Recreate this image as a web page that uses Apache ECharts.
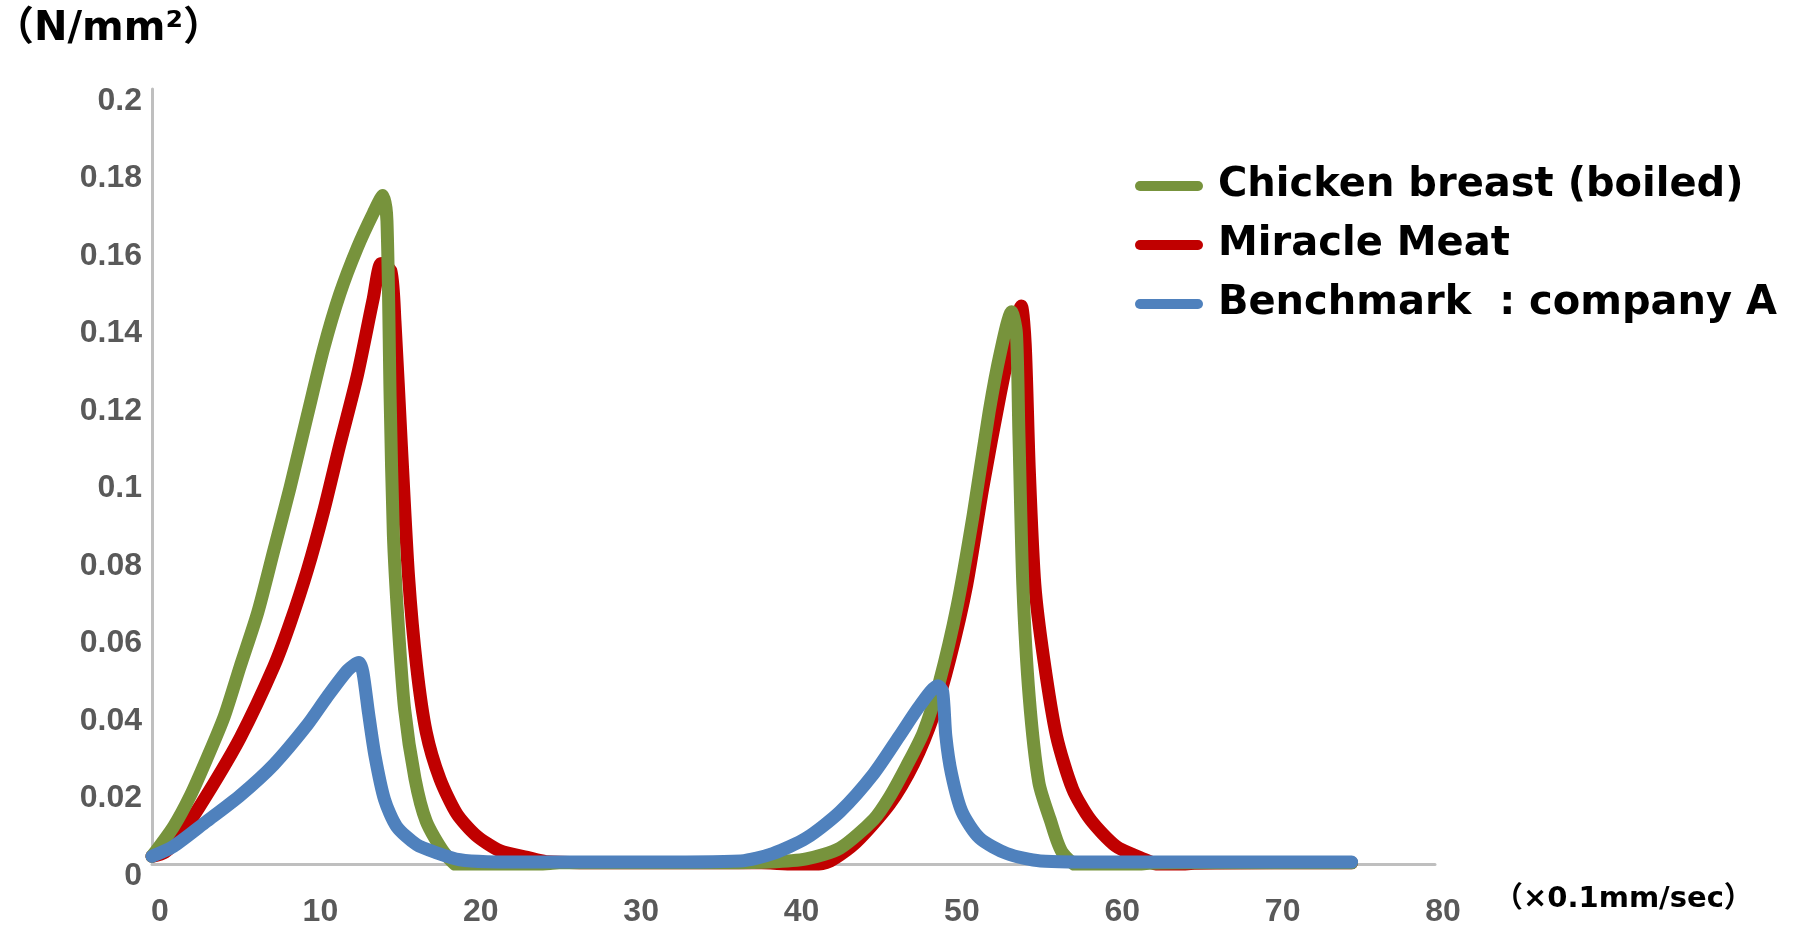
<!DOCTYPE html>
<html>
<head>
<meta charset="utf-8">
<title>chart</title>
<script src="https://cdn.jsdelivr.net/npm/echarts@6/dist/echarts.min.js"></script>
<style>
  html, body { margin: 0; padding: 0; background: #fff; }
  #chart { width: 1793px; height: 928px; }
</style>
</head>
<body>
<div id="chart"></div>
<script>
// series names (legend order)
const seriesNames = ["Chicken breast (boiled)", "Miracle Meat", "Benchmark  : company A"];

// axis ticks
const xTicks = [0, 10, 20, 30, 40, 50, 60, 70, 80];
const yTicks = ["0", "0.02", "0.04", "0.06", "0.08", "0.1", "0.12", "0.14", "0.16", "0.18", "0.2"];

// [x (×0.1mm/sec), stress (N/mm²)]
const chickenData = [
  [0, 0.002], [1.35, 0.0097], [2.4, 0.0177], [3.4, 0.027], [4.5, 0.038], [5.5, 0.051],
  [6.6, 0.065], [7.6, 0.081], [8.6, 0.097], [9.7, 0.116], [10.7, 0.133], [11.7, 0.147],
  [12.8, 0.159], [13.8, 0.168], [14.4, 0.1725], [14.65, 0.166], [14.85, 0.12], [15.05, 0.085],
  [15.35, 0.062], [15.75, 0.04], [16.4, 0.022], [17.1, 0.011], [18.2, 0.003], [19.2, -0.001],
  [20.5, -0.0025], [22.3, -0.0015], [25.4, 0.0003], [30, 0.0003], [35, 0.0003], [38.5, 0.0005],
  [40.8, 0.0013], [42.9, 0.0041], [45, 0.0115], [46, 0.0174], [47.05, 0.0253], [48.1, 0.034],
  [49.1, 0.047], [50.2, 0.0665], [51.2, 0.09], [52.2, 0.1167], [52.9, 0.132], [53.6, 0.1425],
  [53.9, 0.137], [54.05, 0.112], [54.3, 0.072], [54.7, 0.043], [55.3, 0.021], [56, 0.0115],
  [56.8, 0.0027], [58.5, -0.0022], [60.5, -0.0012], [62.2, 0.0002], [65, 0.0003], [70, 0.0003],
  [74.8, 0.0003]
];
const miracleData = [
  [0, 0.002], [0.8, 0.003], [1.77, 0.0074], [3.4, 0.0177], [5.5, 0.0326], [7.6, 0.051],
  [8.6, 0.062], [9.7, 0.076], [10.7, 0.091], [11.7, 0.108], [12.8, 0.126], [13.8, 0.146],
  [14.3, 0.155], [14.9, 0.153], [15.15, 0.14], [15.55, 0.108], [16.0, 0.074], [16.5, 0.051],
  [17.1, 0.034], [17.95, 0.022], [19.0, 0.013], [20.2, 0.0074], [21.7, 0.0034], [23.4, 0.0017],
  [24.6, 0.0006], [30, 0.0003], [38, 0.0003], [41, -0.0004], [42.3, 0.0008], [43.9, 0.0056],
  [46, 0.0155], [47.5, 0.026], [48.7, 0.038], [49.75, 0.053], [50.8, 0.072], [51.8, 0.097],
  [52.9, 0.1215], [53.7, 0.137], [54.2, 0.144], [54.45, 0.134], [54.7, 0.102], [55.05, 0.072],
  [55.6, 0.053], [56.4, 0.033], [57.4, 0.0194], [58.5, 0.0115], [60.1, 0.0046], [61.6, 0.0017],
  [63.3, -0.0008], [65, 0.0002], [70, 0.0003], [74.8, 0.0003]
];
const benchmarkData = [
  [0, 0.002], [1.35, 0.0046], [3.4, 0.011], [5.5, 0.0177], [7.6, 0.0257], [9.7, 0.036],
  [10.9, 0.043], [12.2, 0.05], [12.9, 0.052], [13.15, 0.0495], [13.5, 0.039], [13.9, 0.028],
  [14.5, 0.0166], [15.25, 0.0097], [16.5, 0.005], [17.75, 0.0029], [19.2, 0.0011], [20.9, 0.0006],
  [25, 0.0005], [30, 0.0005], [36.7, 0.0008], [38.7, 0.0027], [40.8, 0.0067], [42.9, 0.0135],
  [45, 0.0233], [46.6, 0.033], [47.9, 0.041], [49.0, 0.046], [49.3, 0.0445], [49.5, 0.033],
  [49.85, 0.0233], [50.5, 0.0135], [51.6, 0.0067], [53.3, 0.0027], [55.4, 0.0008], [60, 0.0005],
  [65, 0.0005], [70, 0.0005], [74.8, 0.0005]
];

const colors = { chicken: "#77933c", miracle: "#c00000", benchmark: "#4f81bd" };

const chartDom = echarts.init(document.getElementById("chart"));

// rounded bar used as legend marker
const pill = "path://M5,0 L63,0 A5,5 0 0 1 63,10 L5,10 A5,5 0 0 1 5,0 Z";
const boldFont = "'DejaVu Sans', 'Noto Sans CJK JP', sans-serif";

const lineSeries = (name, data, color, z) => ({
  name: name,
  type: "line",
  data: data,
  z: z,
  symbol: "none",
  smooth: 0.25,
  lineStyle: { color: color, width: 13, cap: "round", join: "round" },
  itemStyle: { color: color },
});

const option = {
  animation: false,
  grid: { left: 152, right: 358, top: 89, bottom: 59 },
  legend: {
    data: seriesNames.map((n) => ({ name: n, icon: pill })),
    orient: "vertical",
    left: 1130,
    top: 161,
    itemWidth: 68,
    itemHeight: 10,
    itemGap: 19,
    textStyle: {
      color: "#000",
      fontSize: 40,
      lineHeight: 40,
      fontWeight: "bold",
      fontFamily: boldFont,
      padding: [0, 0, 0, 10],
    },
  },
  graphic: [
    {
      type: "text",
      left: -6,
      top: 10,
      style: { text: "（N/mm²）", fill: "#000", font: "bold 40px " + boldFont },
    },
    {
      type: "text",
      left: 1494,
      top: 885,
      style: { text: "（×0.1mm/sec）", fill: "#000", font: "bold 29px " + boldFont },
    },
  ],
  xAxis: {
    type: "value",
    min: xTicks[0],
    max: xTicks[xTicks.length - 1],
    interval: xTicks[1] - xTicks[0],
    axisLine: { show: true, onZero: false, lineStyle: { color: "#bfbfbf", width: 3 } },
    axisTick: { show: false },
    splitLine: { show: false },
    axisLabel: {
      color: "#595959",
      fontSize: 32,
      fontWeight: "bold",
      fontFamily: "Liberation Sans",
      margin: 32,
      padding: [0, 0, 0, 16],
      formatter: (v) => String(xTicks[Math.round(v / 10)]),
    },
  },
  yAxis: {
    type: "value",
    min: 0,
    max: 0.2,
    interval: 0.02,
    axisLine: { show: true, lineStyle: { color: "#bfbfbf", width: 3 } },
    axisTick: { show: false },
    splitLine: { show: false },
    axisLabel: {
      color: "#595959",
      fontSize: 32,
      fontWeight: "bold",
      fontFamily: "Liberation Sans",
      margin: 10,
      verticalAlign: "top",
      lineHeight: 24,
      formatter: (v) => yTicks[Math.round(v / 0.02)],
    },
  },
  series: [
    lineSeries(seriesNames[1], miracleData, colors.miracle, 2),
    lineSeries(seriesNames[0], chickenData, colors.chicken, 3),
    lineSeries(seriesNames[2], benchmarkData, colors.benchmark, 4),
  ],
};

option && chartDom.setOption(option);
</script>
</body>
</html>
